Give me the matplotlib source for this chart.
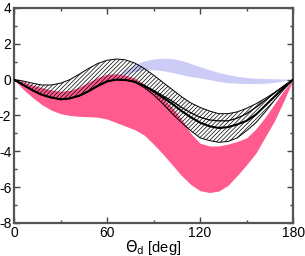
import matplotlib
matplotlib.use("Agg")
import matplotlib.pyplot as plt
from matplotlib.ticker import MultipleLocator

plt.rcParams["font.family"] = ["Liberation Sans", "DejaVu Sans"]
plt.rcParams["axes.unicode_minus"] = False
plt.rcParams["hatch.linewidth"] = 0.5

# Angle grid [deg] shared by the bands and lines
theta = [0, 6, 12, 18, 24, 30, 36, 42, 48, 54, 60, 66, 72, 78, 84, 90,
         96, 102, 108, 114, 120, 126, 132, 138, 144, 150, 156, 162, 168, 174, 180]

# Pink band
pink_upper = [0, -0.12, -0.3, -0.45, -0.58, -0.65, -0.6, -0.42, -0.15, 0.12, 0.3,
              0.33, 0.25, 0.08, -0.25, -0.65, -1.05, -1.55, -2.2, -3.0, -3.55,
              -3.7, -3.7, -3.6, -3.45, -3.25, -2.75, -2.1, -1.35, -0.6, 0]
pink_lower = [0, -0.55, -1.0, -1.4, -1.7, -1.9, -2.0, -2.05, -2.07, -2.1, -2.2,
              -2.4, -2.6, -2.8, -3.1, -3.6, -4.15, -4.75, -5.35, -5.85, -6.2,
              -6.3, -6.22, -5.9, -5.35, -4.75, -4.1, -3.2, -2.3, -1.2, 0]

# Hatched band
hatch_upper = [0, -0.08, -0.2, -0.3, -0.3, -0.2, 0.0, 0.3, 0.62, 0.9, 1.08,
               1.15, 1.1, 0.92, 0.62, 0.25, -0.15, -0.55, -0.95, -1.3, -1.55,
               -1.75, -1.9, -1.9, -1.8, -1.6, -1.35, -1.05, -0.72, -0.36, 0]
hatch_lower = [0, -0.3, -0.6, -0.85, -1.0, -1.1, -1.05, -0.9, -0.65, -0.35, -0.1,
               0.0, -0.02, -0.15, -0.45, -0.85, -1.35, -1.9, -2.4, -2.85, -3.25,
               -3.4, -3.5, -3.45, -3.25, -2.85, -2.4, -1.8, -1.15, -0.55, 0]

# Black curves
line_thick = [0, -0.3, -0.6, -0.85, -1.0, -1.1, -1.05, -0.9, -0.65, -0.35, -0.1,
              0.0, -0.02, -0.12, -0.35, -0.65, -1.0, -1.35, -1.75, -2.1, -2.4,
              -2.6, -2.7, -2.65, -2.5, -2.3, -1.95, -1.45, -0.95, -0.45, 0]
line_thin = [0, -0.3, -0.6, -0.85, -1.0, -1.1, -1.05, -0.9, -0.65, -0.35, -0.1,
             0.0, -0.02, -0.12, -0.33, -0.6, -0.9, -1.2, -1.55, -1.85, -2.1,
             -2.25, -2.3, -2.3, -2.15, -1.9, -1.55, -1.15, -0.75, -0.35, 0]

# Blue band (right part only)
theta_blue = [66, 72, 78, 84, 90, 96, 102, 108, 114, 120, 126, 132, 138, 144,
              150, 156, 162, 168, 174, 180]
blue_upper = [0.2, 0.55, 0.85, 1.05, 1.15, 1.2, 1.17, 1.07, 0.9, 0.72, 0.55,
              0.4, 0.28, 0.18, 0.12, 0.08, 0.06, 0.05, 0.03, 0]
blue_lower = [0.2, 0.3, 0.45, 0.55, 0.55, 0.5, 0.4, 0.28, 0.17, 0.1, 0.0,
              -0.1, -0.17, -0.2, -0.22, -0.22, -0.2, -0.15, -0.08, 0]

fig = plt.figure(figsize=(3.05, 2.56), dpi=100)
ax = fig.add_axes([0.046, 0.129, 0.915, 0.84])

ax.fill_between(theta_blue, blue_lower, blue_upper, color="#ccccf7", lw=0, zorder=1)
ax.fill_between(theta, pink_lower, pink_upper, color="#ff5b8f", lw=0, zorder=2)
ax.fill_between(theta, hatch_lower, hatch_upper, facecolor="none", edgecolor="k",
                hatch="////////", lw=0.7, zorder=3)
ax.plot(theta, line_thin, color="k", lw=0.9, zorder=4)
ax.plot(theta, line_thick, color="k", lw=1.5, zorder=5)

ax.set_xlim(0, 180)
ax.set_ylim(-8, 4)
ax.xaxis.set_major_locator(MultipleLocator(60))
ax.xaxis.set_minor_locator(MultipleLocator(30))
ax.yaxis.set_major_locator(MultipleLocator(2))
ax.yaxis.set_minor_locator(MultipleLocator(1))
ax.tick_params(which="both", direction="in", top=True, right=True,
               color="#444444", width=1.0, labelsize=10, pad=2)
ax.tick_params(which="major", length=4)
ax.tick_params(which="minor", length=2)
for side in ax.spines.values():
    side.set_color("#555555")
    side.set_linewidth(1.6)

ax.set_xlabel(r"$\Theta_\mathrm{d}$ [deg]", fontsize=10.5, labelpad=-1)

fig.savefig("out.png", dpi=100)
